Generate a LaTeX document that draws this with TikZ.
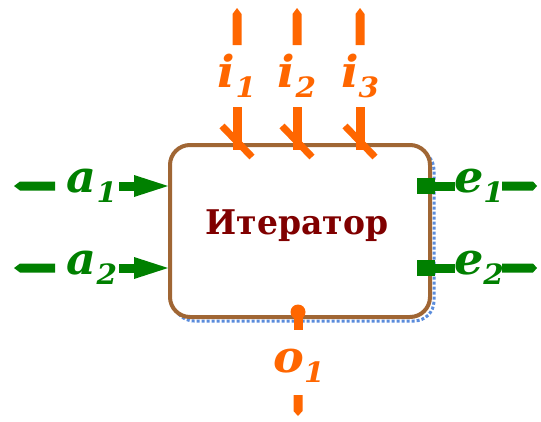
\documentclass[tikz,border=0pt]{standalone}
\usepackage{fontspec}
\setmainfont{DejaVu Serif}
\newfontfamily\lser{DejaVu Serif}
\definecolor{boxbrown}{RGB}{160,102,52}
\definecolor{org}{RGB}{255,102,0}
\definecolor{grn}{RGB}{0,128,0}
\definecolor{shad}{RGB}{90,140,220}
\definecolor{dred}{RGB}{128,0,0}
\newcommand{\lbl}[2]{\scalebox{1.05}[1]{#1\raisebox{-0.22em}{\fontsize{28}{28}\selectfont #2}}}
\tikzset{
  lab/.style={inner sep=0pt,font=\lser\fontsize{44}{44}\selectfont\bfseries\itshape},
  olab/.style={lab,text=org},
  glab/.style={lab,text=grn},
  oline/.style={draw=org,line width=9pt},
  gline/.style={draw=grn,line width=9pt},
}
\begin{document}
\begin{tikzpicture}[x=1pt,y=-1pt]
\useasboundingbox (0,0) rectangle (541,421);
% shadow
\draw[shad,line width=3pt,dotted,rounded corners=20pt] (174,150) rectangle (434,321);
% box
\node[draw=boxbrown,line width=4pt,fill=white,rounded corners=20pt,minimum width=260pt,minimum height=172pt,inner sep=0pt] (box) at (300,231) {};
\node[text=dred,font=\lser\fontsize{34}{34}\selectfont\bfseries] (title) at (297,226) {\scalebox{0.97}[1]{Итератор}};
% top inputs
\foreach \n/\x in {1/237,2/297,3/360}{
  \fill[org] (\x-4.5,45) -- (\x-4.5,14) -- (\x,8) -- (\x+4.5,14) -- (\x+4.5,45) -- cycle;
  \node[olab] (i\n) at (\x,76) {\lbl{i}{\n}};
  \coordinate (it\n) at (\x,107);
  \coordinate (ib\n) at (\x,150);
  \draw[oline] (it\n) -- (ib\n);
  \coordinate (sa\n) at (\x-15,126);
  \coordinate (sb\n) at (\x+15,157);
  \draw[org,line width=7pt] (sa\n) -- (sb\n);
}
% left inputs
\foreach \n/\y in {1/186,2/268}{
  \fill[grn] (55,\y-4.5) -- (20,\y-4.5) -- (14,\y) -- (20,\y+4.5) -- (55,\y+4.5) -- cycle;
  \node[glab] (a\n) at (92,\y) {\lbl{a}{\n}};
  \coordinate (as\n) at (119,\y);
  \coordinate (ae\n) at (168,\y);
  \draw[gline] (as\n) -- (135,\y);
  \fill[grn] (134,\y-11) -- (ae\n) -- (134,\y+11) -- cycle;
}
% right outputs
\foreach \n/\y in {1/186,2/268}{
  \fill[grn] (417,\y-8) rectangle (435,\y+8);
  \coordinate (es\n) at (435,\y);
  \coordinate (ee\n) at (455,\y);
  \draw[gline] (es\n) -- (ee\n);
  \node[glab] (e\n) at (479,\y) {\lbl{e}{\n}};
  \fill[grn] (502,\y-4.5) -- (533,\y-4.5) -- (537,\y) -- (533,\y+4.5) -- (502,\y+4.5) -- cycle;
}
% bottom output
\fill[org] (298,312) circle (7.5pt);
\coordinate (ot) at (298,312);
\coordinate (ob) at (298,330);
\draw[oline] (ot) -- (ob);
\node[olab] (o1) at (299,366) {\lbl{o}{1}};
\fill[org] (293.5,395) -- (293.5,411) -- (298,416) -- (302.5,411) -- (302.5,395) -- cycle;
\end{tikzpicture}
\end{document}
